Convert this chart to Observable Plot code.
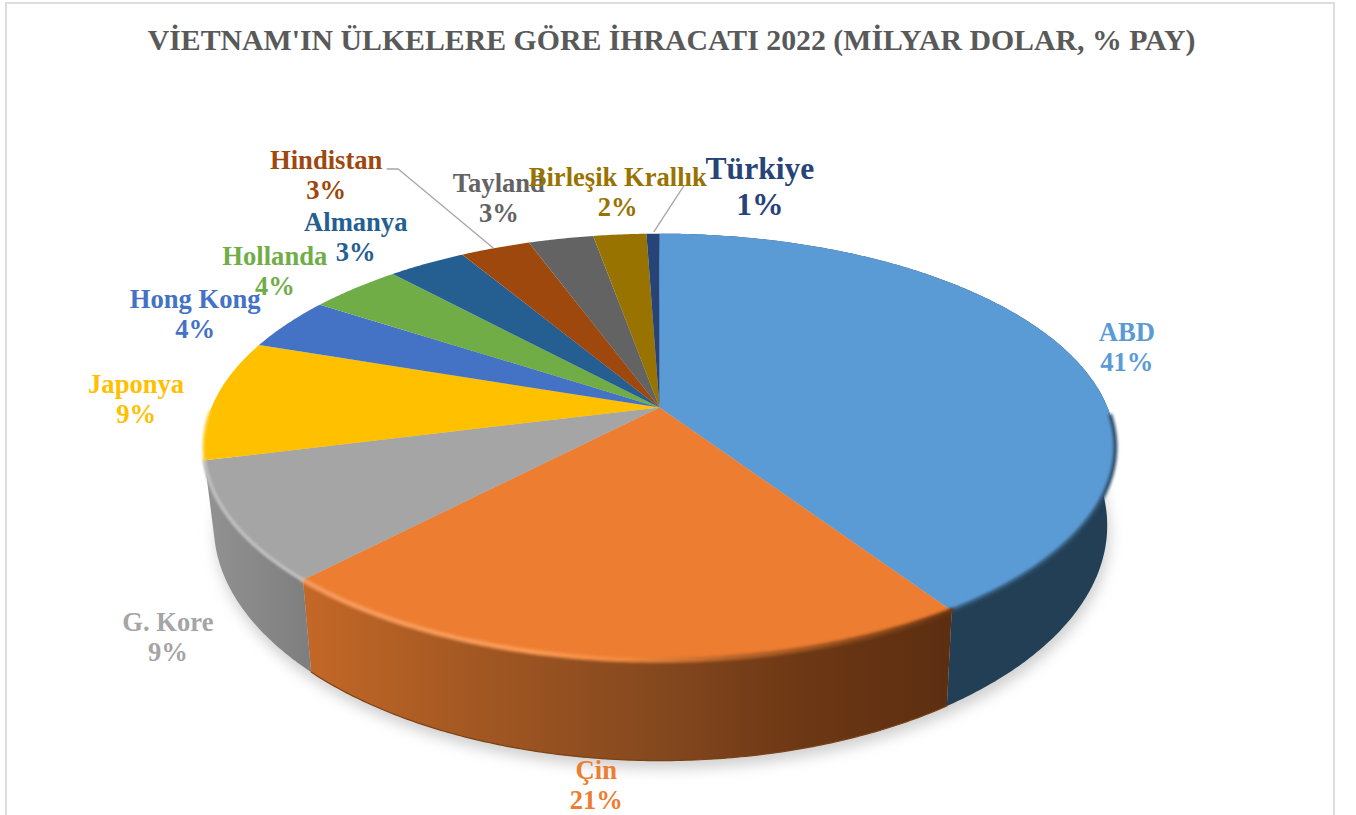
<!DOCTYPE html>
<html lang="tr">
<head>
<meta charset="utf-8">
<script src="https://cdn.jsdelivr.net/npm/d3@7"></script>
<script src="https://cdn.jsdelivr.net/npm/@observablehq/plot@0.6"></script>
<style>
html,body{margin:0;padding:0;background:#fff;overflow:hidden;}
#frame{position:absolute;left:5px;top:2px;width:1330px;height:830px;border:2px solid #dcdcdc;box-sizing:border-box;pointer-events:none;}
#title{height:80px;width:1343px;box-sizing:border-box;padding-top:22px;text-align:center;font:bold 29.8px/36px "Liberation Serif",serif;color:#595959;white-space:nowrap;}
#chart svg{display:block;}
</style>
</head>
<body>
<div id="frame"></div>
<div id="title">VİETNAM'IN ÜLKELERE GÖRE İHRACATI 2022 (MİLYAR DOLAR, % PAY)</div>
<div id="chart"></div>
<script>
// Data
const countries = ["ABD","Çin","G. Kore","Japonya","Hong Kong","Hollanda","Almanya","Hindistan","Tayland","Birleşik Krallık","Türkiye"];
const shares = [40.7,21.4,8.96,9.14,4.07,3.9,3.31,2.96,2.76,2.25,0.55];
const shareLabels = ["41%","21%","9%","9%","4%","4%","3%","3%","3%","2%","1%"];
const faceColors = ["#5B9BD5","#ED7D31","#A5A5A5","#FFC000","#4472C4","#70AD47","#255E91","#9E480E","#636363","#997300","#264478"];
const labelColors = ["#5B9BD5","#ED7D31","#A5A5A5","#FFC000","#4472C4","#70AD47","#255E91","#9E480E","#636363","#997300","#264478"];
const labelShifts = [[60,-5],[-15,125],[-65,114],[-79,-1],[-92,-10],[-80,-18],[-71,-27],[-169,-74],[-62,-41],[-2,-43],[107,-48]];
const labelSizes = [26.6,26.6,26.6,26.6,26.6,26.6,26.6,26.6,26.6,26.6,31.6];
const wallFills = {"ABD":"#223F56","Çin":"url(#wallCin)","G. Kore":"url(#wallKore)"};

// Projection of the tilted disc
const topDisc = {cx:659,cy:407,a:448,b:206,k:0.185};
const lowDisc = {cx:660,cy:481.6,a:439,b:227,k:0.185};
function rim(d,f){
  const t=f*2*Math.PI,u=Math.sin(t),v=Math.cos(t),w=1+d.k*v;
  return {x:d.cx+d.a*u/w,y:d.cy-d.b*v/w};
}
function arc(d,f0,f1){
  const n=Math.max(2,Math.ceil((f1-f0)*720)),out=[];
  for(let i=0;i<=n;i++) out.push(rim(d,f0+(f1-f0)*i/n));
  return out;
}
const total=d3.sum(shares);
const cum=d3.cumsum(shares);
const slices=countries.map((name,i)=>({name,i,f0:(i?cum[i-1]:0)/total,f1:cum[i]/total,fm:((i?cum[i-1]:0)+cum[i])/2/total}));
const sliceBy=n=>slices.find(s=>s.name===n);

const faceRows=slices.flatMap(s=>[{x:topDisc.cx,y:topDisc.cy,name:s.name},...arc(topDisc,s.f0,s.f1).map(p=>({...p,name:s.name}))]);
const labelRows=slices.map(s=>{const p=rim(topDisc,s.fm),[dx,dy]=labelShifts[s.i];return {x:p.x+dx,y:p.y+dy,text:s.name+"\n"+shareLabels[s.i],name:s.name,size:labelSizes[s.i],color:labelColors[s.i]};});
const wallMarks=Object.keys(wallFills).map(n=>{
  const s=sliceBy(n);
  return Plot.line([...arc(topDisc,s.f0,s.f1),...arc(lowDisc,s.f0,s.f1).reverse()],{x:"x",y:"y",fill:wallFills[n],stroke:null});
});
const rimLine=(n,from,to,stroke,w,blur)=>{
  const s=sliceBy(n);
  return Plot.line(arc(topDisc,s.f0+(s.f1-s.f0)*from,s.f0+(s.f1-s.f0)*to),{x:"x",y:"y",stroke,strokeWidth:w,imageFilter:`blur(${blur}px)`});
};
const leader=(n,pts)=>{
  const p=rim(topDisc,sliceBy(n).fm);
  return Plot.line(pts.map(([dx,dy])=>({x:p.x+dx,y:p.y+dy})),{x:"x",y:"y",stroke:"#A6A6A6",strokeWidth:1.3});
};
const defs=()=>{
  const g=d3.create("svg:defs");
  g.html(`<linearGradient id="wallCin"><stop offset="0" stop-color="#C46827"/><stop offset=".22" stop-color="#A85A23"/><stop offset=".55" stop-color="#84481E"/><stop offset=".78" stop-color="#6C3714"/><stop offset="1" stop-color="#5C2E11"/></linearGradient>
  <linearGradient id="wallKore"><stop offset="0" stop-color="#929292"/><stop offset="1" stop-color="#7E7E7E"/></linearGradient>
  <linearGradient id="rimCin"><stop offset="0" stop-color="#F59B5E"/><stop offset=".35" stop-color="#FA9A55"/><stop offset=".5" stop-color="#F2893C"/><stop offset=".65" stop-color="#B9652B"/><stop offset="1" stop-color="#66340F"/></linearGradient>`);
  return g.node();
};
const textMark=(rows)=>Plot.text(rows,{x:"x",y:"y",text:"text",fill:rows[0].color,fontSize:rows[0].size,fontFamily:"Liberation Serif",fontWeight:"bold",lineHeight:1.13,textAnchor:"middle"});

const chart=Plot.plot({
  width:1356,height:735,margin:0,
  x:{domain:[0,1356],range:[0,1356],axis:null},
  y:{domain:[80,815],range:[0,735],axis:null},
  color:{domain:countries,range:faceColors},
  style:{background:"#fff",overflow:"visible"},
  marks:[
    defs,
    Plot.line(arc(lowDisc,0,1),{x:"x",y:"y",fill:"#CFCFCF",stroke:null,dy:8,dx:2,imageFilter:"blur(7px)"}),
    ...wallMarks,
    Plot.line(faceRows,{x:"x",y:"y",z:"name",fill:"name",stroke:null}),
    rimLine("ABD",0.63,1,"#2E506C",4,1.5),
    rimLine("Çin",0,1,"url(#rimCin)",5,1.5),
    rimLine("G. Kore",0,1,"#BDBDBD",4,1.2),
    rimLine("Japonya",0,0.4,"#FFD23F",2.5,1),
    Plot.line(arc(lowDisc,sliceBy("Çin").f0,sliceBy("Çin").f1),{x:"x",y:"y",stroke:"#7A4213",strokeWidth:1.2,imageFilter:"blur(.5px)"}),
    leader("Hindistan",[[-108,-79],[-97,-79],[-2,0]]),
    leader("Türkiye",[[31,-48],[1,-2]]),
    ...labelRows.map(r=>textMark([r]))
  ]
});
document.getElementById("chart").append(chart);
</script>
</body>
</html>
